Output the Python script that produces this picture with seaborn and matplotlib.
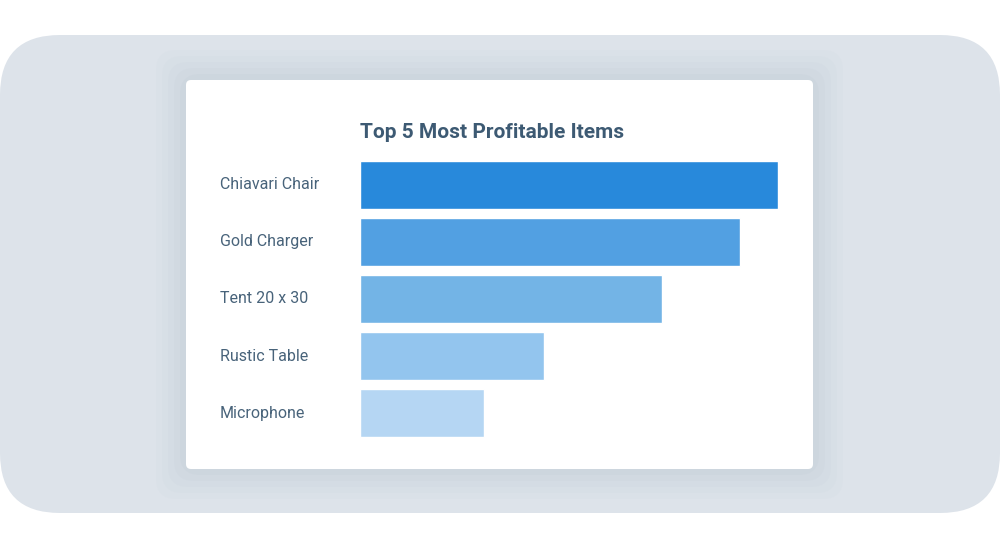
import matplotlib
matplotlib.use("Agg")
import matplotlib.pyplot as plt
import seaborn as sns
import pandas as pd
from matplotlib.patches import FancyBboxPatch

items = ["Chiavari Chair", "Gold Charger", "Tent 20 x 30", "Rustic Table", "Microphone"]
profit = [418, 380, 302, 184, 124]
colors = ["#2889db", "#52a0e2", "#73b4e6", "#93c5ee", "#b5d6f3"]

sns.set_theme(style="white")
plt.rcParams['font.family'] = ['Roboto', 'DejaVu Sans']

W, H = 1000, 550
fig = plt.figure(figsize=(10, 5.5), dpi=100)
fig.patch.set_facecolor("white")

def fx(x): return x / W
def fy(y): return 1 - y / H

# outer rounded background
fig.patches.append(FancyBboxPatch((fx(0), fy(513)), fx(1000), 478 / H,
    boxstyle="round,pad=0,rounding_size=0.06", transform=fig.transFigure,
    facecolor="#dde3ea", edgecolor="none", mutation_aspect=W / H, zorder=0))
# shadow layers
for i, a in enumerate([0.03, 0.03, 0.04, 0.05, 0.06]):
    g = 30 - i * 6
    fig.patches.append(FancyBboxPatch((fx(186 - g), fy(469 + g)), (627 + 2 * g) / W, (389 + 2 * g) / H,
        boxstyle="round,pad=0,rounding_size=0.02", transform=fig.transFigure,
        facecolor="#9aaabb", edgecolor="none", alpha=a, mutation_aspect=W / H, zorder=1))
# card
fig.patches.append(FancyBboxPatch((fx(186), fy(469)), 627 / W, 389 / H,
    boxstyle="round,pad=0,rounding_size=0.005", transform=fig.transFigure,
    facecolor="white", edgecolor="none", mutation_aspect=W / H, zorder=2))

ax = fig.add_axes([fx(360), fy(442), 418 / W, 286 / H])
ax.set_zorder(3)
ax.patch.set_alpha(0)
df = pd.DataFrame({"item": items, "profit": profit})
sns.barplot(data=df, x="profit", y="item", hue="item", palette=colors, legend=False,
            width=0.84, saturation=1, ax=ax)
ax.set_xlim(0, 418)
ax.set_ylim(4.5, -0.5)
ax.set_xlabel(""); ax.set_ylabel("")
ax.set_xticks([])
ax.set_yticks([])
for s in ax.spines.values():
    s.set_visible(False)
for i, name in enumerate(items):
    ax.text(-140 / 418 * 418, i, name, ha="left", va="center", fontsize=11.5,
            color="#48637a", transform=ax.transData)
fig.text(fx(360), fy(133), "Top 5 Most Profitable Items", ha="left", va="center",
         fontsize=15, fontweight="bold", color="#3d5a73", zorder=4)

fig.savefig("out.png", dpi=100, facecolor="white")
